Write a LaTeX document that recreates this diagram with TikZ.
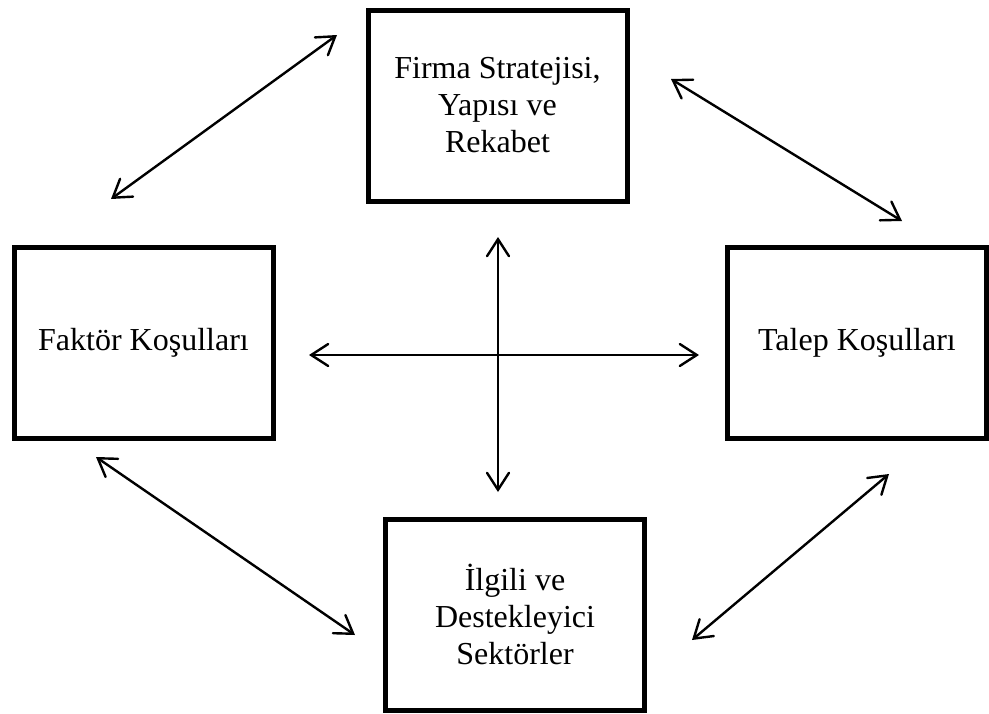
\documentclass[tikz,border=0pt]{standalone}
\usepackage{fontspec}
\setmainfont{Liberation Serif}
\usetikzlibrary{arrows.meta}
\begin{document}
\begin{tikzpicture}[x=1pt,y=-1pt,
  factor/.style={draw=black, line width=5pt, fill=white, minimum width=259pt,
    minimum height=191pt, inner sep=0pt, align=center,
    font=\fontsize{32}{37}\selectfont},
  link/.style={line width=2.4pt, line cap=round,
    {Straight Barb[length=17pt,width=22pt,line cap=round]}-{Straight Barb[length=17pt,width=22pt,line cap=round]}}]
\useasboundingbox (0,0) rectangle (989,713);

% the four determinants
\node[factor] (strat)  at (497.5,105.5) {Firma Stratejisi,\\Yapısı ve\\Rekabet};
\node[factor] (factor) at (143.5,342.5) {Faktör Koşulları};
\node[factor] (demand) at (857,343)     {Talep Koşulları};
\node[factor] (rel)    at (515,614.5)   {İlgili ve\\Destekleyici\\Sektörler};

% arrow end points
\coordinate (fsA) at (111,199);
\coordinate (fsB) at (337,35);
\coordinate (sdA) at (671,79);
\coordinate (sdB) at (902,221);
\coordinate (frA) at (96,457);
\coordinate (frB) at (355,635);
\coordinate (rdA) at (692,640);
\coordinate (rdB) at (889,474);
\coordinate (hL) at (309,355);
\coordinate (hR) at (699,355);
\coordinate (vT) at (498,237);
\coordinate (vB) at (498,492);

% two-way links
\draw[link] (fsA) -- (fsB);
\draw[link] (sdA) -- (sdB);
\draw[link] (frA) -- (frB);
\draw[link] (rdA) -- (rdB);
\draw[link] (hL) -- (hR);
\draw[link] (vT) -- (vB);
\end{tikzpicture}
\end{document}
